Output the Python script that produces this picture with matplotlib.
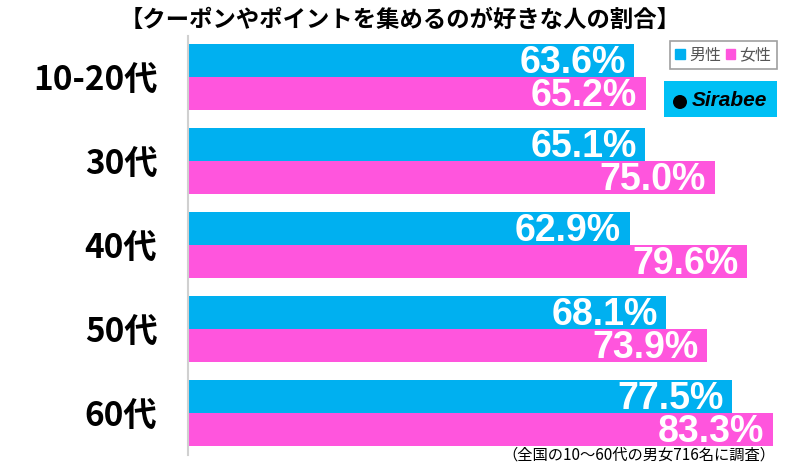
import matplotlib
matplotlib.use("Agg")
import matplotlib.pyplot as plt
from matplotlib.patches import Rectangle, Ellipse, Patch
import numpy as np

plt.rcParams['font.family'] = ['Noto Sans CJK JP', 'DejaVu Sans']

categories = ["10-20代", "30代", "40代", "50代", "60代"]
male = [63.6, 65.1, 62.9, 68.1, 77.5]
female = [65.2, 75.0, 79.6, 73.9, 83.3]
series_names = ["男性", "女性"]
title = "【クーポンやポイントを集めるのが好きな人の割合】"
note = "（全国の10～60代の男女716名に調査）"

c_male = "#00b0f0"
c_female = "#ff55dd"

W, H = 800, 466
fig = plt.figure(figsize=(8, 4.66), dpi=100)
ax_left, ax_top, ax_bot = 188, 36, 455
ax = fig.add_axes([ax_left / W, 1 - ax_bot / H, 1 - ax_left / W, (ax_bot - ax_top) / H])

y = np.arange(len(categories))
h = 33 / 84
ax.barh(y - h / 2, male, height=h, color=c_male)
ax.barh(y + h / 2, female, height=h, color=c_female)
ax.set_xlim(0, (W - ax_left) / 7.02)
ax.set_ylim(4.5, -0.488)

for spine in ["top", "right", "bottom"]:
    ax.spines[spine].set_visible(False)
ax.spines["left"].set_color("#d0d0d0")
ax.spines["left"].set_linewidth(1.5)
ax.set_xticks([])
ax.set_yticks(y)
ax.set_yticklabels(categories, fontsize=24, fontweight="bold")
ax.tick_params(axis="y", length=0, pad=22)

for vals, off in ((male, -h / 2), (female, h / 2)):
    for i, v in enumerate(vals):
        ax.annotate(f"{v:.1f}%", (v, i + off), xytext=(-6, -9), textcoords="offset points",
                    ha="right", va="baseline", color="white", fontsize=27,
                    fontweight="bold", family=["Liberation Sans", "DejaVu Sans"])

fig.text(0.5, 1 - 20 / H, title, ha="center", va="center", fontsize=16.8, fontweight="bold")
fig.text(775 / W, 1 - 455 / H, note, ha="right", va="center", fontsize=11)

# legend
leg = fig.legend(handles=[Patch(color=c_male), Patch(color=c_female)], labels=series_names,
                 loc="upper right", bbox_to_anchor=(777 / W, 1 - 41 / H), ncol=2,
                 fontsize=11.5, frameon=True, fancybox=False, handlelength=0.6, handleheight=0.6,
                 handletextpad=0.25, columnspacing=0.3, borderpad=0.35, borderaxespad=0,
                 labelcolor="#555555")
leg.get_frame().set_edgecolor("#888888")
leg.get_frame().set_linewidth(1.2)

# logo
fig.patches.append(Rectangle((664 / W, 1 - 117 / H), 113 / W, 36 / H, transform=fig.transFigure,
                             facecolor="#00c0f5", edgecolor="none"))
fig.patches.append(Ellipse((680 / W, 1 - 102 / H), 14 / W, 14 / H, transform=fig.transFigure,
                           facecolor="black", edgecolor="none"))
fig.text(692 / W, 1 - 100 / H, "Sirabee", ha="left", va="center", fontsize=15,
         fontweight="bold", fontstyle="italic", family=["Liberation Sans", "DejaVu Sans"])

fig.savefig("out.png", dpi=100)
